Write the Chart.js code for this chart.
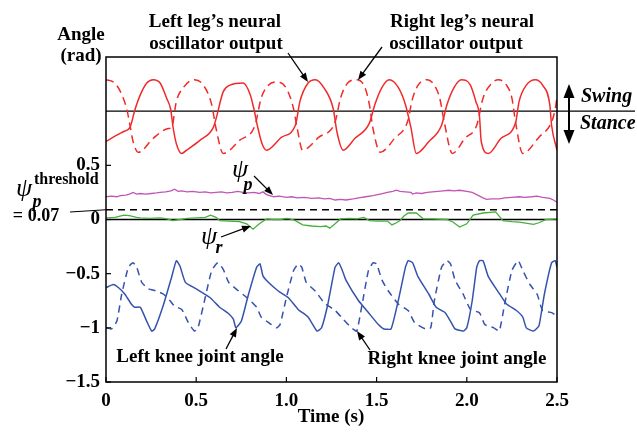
<!DOCTYPE html>
<html>
<head>
<meta charset="utf-8">
<script src="https://cdn.jsdelivr.net/npm/chart.js@4"></script>
<style>html,body{margin:0;background:#fff}</style>
</head>
<body>
<canvas id="c" width="637" height="432"></canvas>
<script>
// axis setup
const xTicks = [0, 0.5, 1, 1.5, 2, 2.5];
const yTicks = [-1.5, -1, -0.5, 0, 0.5];
const swingLine = 1.0;      // swing / stance border
const thresholdLine = 0.09; // psi_p threshold (drawn position)

// left leg's neural oscillator (solid red)
const leftOscT = [0, 0.04, 0.096, 0.133, 0.16, 0.19, 0.226, 0.262, 0.30, 0.336, 0.358, 0.373, 0.39, 0.42, 0.447, 0.52, 0.595, 0.61, 0.65, 0.687, 0.76, 0.80, 0.82, 0.84, 0.865, 0.89, 0.974, 1.05, 1.075, 1.12, 1.16, 1.21, 1.26, 1.28, 1.315, 1.38, 1.46, 1.49, 1.53, 1.57, 1.62, 1.66, 1.69, 1.72, 1.79, 1.86, 1.89, 1.93, 1.97, 2.02, 2.05, 2.07, 2.08, 2.12, 2.19, 2.27, 2.29, 2.33, 2.38, 2.42, 2.46, 2.47, 2.50];
const leftOscV = [0.72, 0.76, 0.81, 0.85, 1.01, 1.15, 1.26, 1.29, 1.26, 1.12, 1.02, 0.84, 0.70, 0.61, 0.64, 0.73, 0.85, 0.93, 1.18, 1.24, 1.26, 1.15, 1.02, 0.86, 0.70, 0.64, 0.76, 0.87, 1.09, 1.26, 1.29, 1.21, 1.02, 0.81, 0.64, 0.75, 0.89, 1.06, 1.22, 1.29, 1.22, 1.06, 0.85, 0.61, 0.72, 0.87, 1.06, 1.22, 1.29, 1.24, 1.09, 0.96, 0.72, 0.61, 0.75, 0.89, 1.09, 1.24, 1.29, 1.24, 1.06, 0.87, 0.64];

// right leg's neural oscillator (dashed red)
const rightOscT = [0, 0.04, 0.08, 0.115, 0.133, 0.15, 0.18, 0.262, 0.345, 0.364, 0.39, 0.43, 0.49, 0.54, 0.586, 0.61, 0.65, 0.74, 0.826, 0.86, 0.90, 0.946, 1.00, 1.04, 1.06, 1.09, 1.18, 1.27, 1.30, 1.34, 1.39, 1.435, 1.46, 1.48, 1.52, 1.60, 1.675, 1.695, 1.73, 1.78, 1.82, 1.85, 1.875, 1.92, 1.99, 2.055, 2.09, 2.14, 2.175, 2.22, 2.25, 2.27, 2.31, 2.40, 2.47, 2.49, 2.50];
const rightOscV = [1.29, 1.27, 1.18, 1.02, 0.87, 0.72, 0.62, 0.75, 0.84, 0.85, 1.09, 1.22, 1.29, 1.24, 1.06, 0.84, 0.61, 0.73, 0.87, 1.12, 1.24, 1.27, 1.21, 1.02, 0.84, 0.64, 0.76, 0.90, 1.12, 1.26, 1.29, 1.22, 1.06, 0.84, 0.62, 0.75, 0.92, 1.09, 1.24, 1.29, 1.24, 1.12, 0.90, 0.61, 0.75, 0.87, 1.12, 1.26, 1.29, 1.24, 1.12, 0.90, 0.61, 0.76, 0.90, 1.02, 1.13];

// psi_p (magenta)
const psiPT = [0, 0.03, 0.06, 0.08, 0.11, 0.13, 0.15, 0.17, 0.19, 0.22, 0.25, 0.28, 0.30, 0.33, 0.36, 0.38, 0.40, 0.42, 0.45, 0.48, 0.52, 0.55, 0.58, 0.61, 0.64, 0.67, 0.70, 0.73, 0.76, 0.79, 0.82, 0.85, 0.87, 0.89, 0.93, 0.96, 1.00, 1.03, 1.06, 1.10, 1.14, 1.18, 1.21, 1.24, 1.27, 1.30, 1.33, 1.37, 1.40, 1.44, 1.48, 1.52, 1.56, 1.59, 1.61, 1.63, 1.66, 1.69, 1.70, 1.72, 1.75, 1.78, 1.81, 1.84, 1.87, 1.90, 1.93, 1.96, 2.00, 2.03, 2.06, 2.09, 2.11, 2.14, 2.18, 2.21, 2.25, 2.29, 2.32, 2.36, 2.39, 2.42, 2.46, 2.48, 2.50];
const psiPV = [0.21, 0.215, 0.21, 0.22, 0.225, 0.235, 0.25, 0.235, 0.24, 0.235, 0.24, 0.245, 0.25, 0.255, 0.265, 0.28, 0.26, 0.265, 0.255, 0.26, 0.25, 0.255, 0.245, 0.25, 0.255, 0.245, 0.25, 0.26, 0.25, 0.245, 0.25, 0.24, 0.255, 0.23, 0.21, 0.215, 0.205, 0.21, 0.20, 0.205, 0.195, 0.20, 0.19, 0.195, 0.18, 0.185, 0.18, 0.19, 0.20, 0.21, 0.22, 0.235, 0.25, 0.26, 0.27, 0.26, 0.255, 0.25, 0.235, 0.245, 0.24, 0.25, 0.255, 0.26, 0.265, 0.27, 0.265, 0.27, 0.26, 0.25, 0.225, 0.20, 0.185, 0.19, 0.19, 0.20, 0.205, 0.21, 0.205, 0.21, 0.215, 0.205, 0.195, 0.18, 0.16];

// psi_r (green)
const psiRT = [0, 0.05, 0.10, 0.13, 0.17, 0.19, 0.24, 0.30, 0.34, 0.37, 0.41, 0.45, 0.50, 0.55, 0.58, 0.61, 0.63, 0.68, 0.74, 0.78, 0.815, 0.85, 0.89, 0.93, 0.965, 1.00, 1.02, 1.05, 1.09, 1.14, 1.19, 1.22, 1.24, 1.27, 1.30, 1.35, 1.39, 1.43, 1.46, 1.51, 1.56, 1.585, 1.61, 1.63, 1.65, 1.675, 1.72, 1.76, 1.81, 1.89, 1.925, 1.96, 2.00, 2.035, 2.09, 2.16, 2.20, 2.25, 2.29, 2.37, 2.40, 2.44, 2.50];
const psiRV = [0.015, 0.02, 0.04, 0.035, 0.02, 0.015, 0.01, 0.015, 0.005, -0.01, 0.0, 0.01, 0.015, 0.02, 0.04, 0.02, -0.01, -0.015, -0.02, -0.04, -0.09, -0.04, 0.005, 0.0, 0.0, 0.01, 0.005, -0.01, -0.05, -0.06, -0.065, -0.06, -0.08, -0.04, 0.005, 0.01, 0.005, 0.02, -0.01, -0.015, -0.015, -0.05, -0.03, -0.01, 0.03, 0.06, 0.06, 0.005, 0.005, 0.0, -0.025, -0.07, -0.04, 0.04, 0.06, 0.07, -0.01, -0.02, -0.025, -0.045, -0.03, 0.0, 0.005];

// left knee joint angle (solid blue)
const leftKneeT = [0, 0.04, 0.07, 0.105, 0.14, 0.16, 0.19, 0.226, 0.253, 0.27, 0.32, 0.364, 0.39, 0.41, 0.44, 0.50, 0.576, 0.63, 0.68, 0.706, 0.72, 0.75, 0.79, 0.835, 0.854, 0.87, 0.90, 0.955, 1.01, 1.065, 1.12, 1.17, 1.195, 1.23, 1.27, 1.29, 1.31, 1.33, 1.40, 1.455, 1.51, 1.54, 1.58, 1.62, 1.66, 1.675, 1.70, 1.73, 1.79, 1.83, 1.88, 1.91, 1.935, 1.98, 2.00, 2.03, 2.055, 2.07, 2.09, 2.12, 2.175, 2.22, 2.275, 2.31, 2.33, 2.37, 2.40, 2.43, 2.47, 2.49, 2.50];
const leftKneeV = [-0.63, -0.60, -0.63, -0.69, -0.78, -0.81, -0.81, -0.94, -1.03, -1.01, -0.78, -0.53, -0.38, -0.43, -0.58, -0.64, -0.72, -0.81, -0.87, -0.92, -1.00, -0.94, -0.69, -0.44, -0.41, -0.52, -0.58, -0.66, -0.72, -0.83, -0.90, -1.03, -1.00, -0.78, -0.44, -0.40, -0.47, -0.56, -0.75, -0.86, -0.97, -1.01, -1.01, -0.75, -0.44, -0.38, -0.40, -0.53, -0.69, -0.81, -0.86, -0.94, -1.01, -1.03, -1.00, -0.75, -0.44, -0.38, -0.38, -0.53, -0.67, -0.78, -0.84, -0.90, -1.00, -1.03, -0.98, -0.69, -0.40, -0.38, -0.44];

// right knee joint angle (dashed blue)
const rightKneeT = [0, 0.03, 0.06, 0.087, 0.124, 0.15, 0.17, 0.198, 0.235, 0.28, 0.32, 0.355, 0.38, 0.42, 0.456, 0.49, 0.51, 0.55, 0.586, 0.62, 0.65, 0.68, 0.72, 0.78, 0.835, 0.86, 0.90, 0.946, 0.965, 1.00, 1.04, 1.066, 1.085, 1.11, 1.16, 1.21, 1.27, 1.315, 1.36, 1.39, 1.42, 1.455, 1.48, 1.50, 1.53, 1.565, 1.62, 1.675, 1.71, 1.77, 1.80, 1.82, 1.86, 1.89, 1.91, 1.935, 1.98, 2.02, 2.07, 2.10, 2.15, 2.18, 2.21, 2.25, 2.285, 2.31, 2.35, 2.39, 2.42, 2.47, 2.50];
const rightKneeV = [-1.00, -1.01, -0.94, -0.69, -0.44, -0.40, -0.44, -0.58, -0.64, -0.66, -0.69, -0.75, -0.80, -0.83, -0.95, -1.03, -1.00, -0.72, -0.47, -0.40, -0.46, -0.58, -0.64, -0.72, -0.81, -0.90, -0.95, -1.00, -0.97, -0.72, -0.47, -0.41, -0.44, -0.58, -0.66, -0.77, -0.84, -0.92, -1.00, -1.03, -0.78, -0.47, -0.40, -0.41, -0.56, -0.66, -0.78, -0.84, -0.95, -1.01, -1.00, -0.75, -0.44, -0.38, -0.41, -0.56, -0.69, -0.83, -0.86, -0.97, -1.00, -1.03, -0.78, -0.47, -0.38, -0.47, -0.60, -0.69, -0.84, -0.86, -0.89];

const SERIF = '"Liberation Serif", "Times New Roman", serif';

function pts(T, V) {
  return T.map((t, i) => ({ x: t, y: V[i] }));
}

function arrow(ctx, x1, y1, x2, y2, len, half) {
  const a = Math.atan2(y2 - y1, x2 - x1);
  ctx.beginPath();
  ctx.moveTo(x1, y1);
  ctx.lineTo(x2 - Math.cos(a) * len * 0.8, y2 - Math.sin(a) * len * 0.8);
  ctx.stroke();
  ctx.beginPath();
  ctx.moveTo(x2, y2);
  ctx.lineTo(x2 - Math.cos(a) * len - Math.sin(a) * half, y2 - Math.sin(a) * len + Math.cos(a) * half);
  ctx.lineTo(x2 - Math.cos(a) * len + Math.sin(a) * half, y2 - Math.sin(a) * len - Math.cos(a) * half);
  ctx.closePath();
  ctx.fill();
}

function txt(ctx, s, x, y, font, align) {
  ctx.font = font;
  ctx.textAlign = align || 'center';
  ctx.fillText(s, x, y);
}

const decor = {
  id: 'decor',
  beforeDatasetsDraw(chart) {
    const ctx = chart.ctx, a = chart.chartArea;
    const ys = chart.scales.y;
    ctx.save();
    ctx.strokeStyle = '#000';
    // swing/stance line, runs out to the right margin
    ctx.lineWidth = 1.3;
    let y1 = ys.getPixelForValue(swingLine);
    ctx.beginPath(); ctx.moveTo(a.left, y1); ctx.lineTo(635, y1); ctx.stroke();
    // zero line
    let y0 = ys.getPixelForValue(0);
    ctx.beginPath(); ctx.moveTo(a.left, y0); ctx.lineTo(a.right, y0); ctx.stroke();
    // threshold
    let yt = ys.getPixelForValue(thresholdLine);
    ctx.lineWidth = 1.6;
    ctx.setLineDash([7, 5]);
    ctx.beginPath(); ctx.moveTo(a.left, yt); ctx.lineTo(a.right, yt); ctx.stroke();
    ctx.setLineDash([]);
    ctx.lineWidth = 1.2;
    ctx.beginPath(); ctx.moveTo(70, 212); ctx.lineTo(a.left, yt); ctx.stroke();
    ctx.restore();
  },
  afterDraw(chart) {
    const ctx = chart.ctx, a = chart.chartArea;
    const xs = chart.scales.x, ys = chart.scales.y;
    ctx.save();
    ctx.strokeStyle = '#000';
    ctx.fillStyle = '#000';
    // frame
    ctx.lineWidth = 1.5;
    ctx.strokeRect(a.left, a.top, a.right - a.left, a.bottom - a.top);
    // inside tick marks
    ctx.lineWidth = 1.2;
    yTicks.forEach(v => {
      const y = ys.getPixelForValue(v);
      ctx.beginPath(); ctx.moveTo(a.left, y); ctx.lineTo(a.left + 5, y); ctx.stroke();
    });
    xTicks.forEach(v => {
      const x = xs.getPixelForValue(v);
      ctx.beginPath(); ctx.moveTo(x, a.bottom); ctx.lineTo(x, a.bottom - 5); ctx.stroke();
    });

    // Swing / Stance double arrow
    ctx.lineWidth = 2;
    arrow(ctx, 569, 114, 569, 84, 14, 5.5);
    arrow(ctx, 569, 108, 569, 144, 14, 5.5);

    // pointer arrows
    ctx.lineWidth = 1.3;
    arrow(ctx, 288, 53, 308, 82, 9, 3.5);
    arrow(ctx, 382, 47, 358, 80, 9, 3.5);
    arrow(ctx, 254, 176, 273, 195, 9, 3.5);
    arrow(ctx, 221, 237, 251, 226, 9, 3.5);
    arrow(ctx, 226, 349, 237, 328, 9, 3.5);
    arrow(ctx, 370, 350, 357, 331, 9, 3.5);

    // text
    ctx.textBaseline = 'middle';
    const B = 'bold 19px ' + SERIF;
    txt(ctx, 'Angle', 81, 35, B);
    txt(ctx, '(rad)', 81, 56, B);
    txt(ctx, 'Left leg\u2019s neural', 215, 22, B);
    txt(ctx, 'oscillator output', 216, 44, B);
    txt(ctx, 'Right leg\u2019s neural', 462, 22, B);
    txt(ctx, 'oscillator output', 456, 44, B);
    txt(ctx, 'Swing', 581, 97, 'italic bold 20px ' + SERIF, 'left');
    txt(ctx, 'Stance', 580, 124, 'italic bold 20px ' + SERIF, 'left');
    txt(ctx, 'Left knee joint angle', 200, 357, B);
    txt(ctx, 'Right knee joint angle', 457, 359, B);
    txt(ctx, 'Time (s)', 331, 417, B);

    // psi labels
    const PSI = 'italic 26px ' + SERIF;
    const SUB = 'italic bold 18px ' + SERIF;
    txt(ctx, '\u03C8', 240, 170, PSI);
    txt(ctx, 'p', 248, 185, SUB);
    txt(ctx, '\u03C8', 209, 237, PSI);
    txt(ctx, 'r', 219, 248, SUB);
    txt(ctx, '\u03C8', 24, 189, PSI);
    txt(ctx, 'p', 37, 202, SUB);
    txt(ctx, 'threshold', 34, 180, 'bold 16px ' + SERIF, 'left');
    txt(ctx, '= 0.07', 36, 216, 'bold 18px ' + SERIF);
    ctx.restore();
  }
};

const tickFont = { family: SERIF, size: 19, weight: 'bold' };

new Chart(document.getElementById('c'), {
  type: 'line',
  data: {
    datasets: [
      { data: pts(leftOscT, leftOscV), borderColor: '#f02a2a', borderWidth: 1.5, cubicInterpolationMode: 'monotone' },
      { data: pts(rightOscT, rightOscV), borderColor: '#f02a2a', borderWidth: 1.5, borderDash: [8, 5], cubicInterpolationMode: 'monotone' },
      { data: pts(psiPT, psiPV), borderColor: '#c055b5', borderWidth: 1.3, tension: 0 },
      { data: pts(psiRT, psiRV), borderColor: '#45b03a', borderWidth: 1.3, tension: 0 },
      { data: pts(leftKneeT, leftKneeV), borderColor: '#3452ae', borderWidth: 1.5, tension: 0.15 },
      { data: pts(rightKneeT, rightKneeV), borderColor: '#3452ae', borderWidth: 1.5, borderDash: [7, 5], tension: 0.15 }
    ]
  },
  options: {
    responsive: false,
    animation: false,
    devicePixelRatio: 1,
    layout: { padding: { left: 0, right: 80, top: 57, bottom: 0 } },
    elements: { point: { radius: 0 } },
    plugins: { legend: { display: false }, tooltip: { enabled: false } },
    scales: {
      x: {
        type: 'linear', min: 0, max: 2.5,
        afterBuildTicks: s => { s.ticks = xTicks.map(v => ({ value: v })); },
        ticks: { font: tickFont, color: '#000', padding: 8, maxRotation: 0 },
        grid: { display: false, drawTicks: false },
        border: { display: false },
        afterFit: s => { s.height = 50; }
      },
      y: {
        type: 'linear', min: -1.5, max: 1.5,
        afterBuildTicks: s => { s.ticks = yTicks.map(v => ({ value: v })); },
        ticks: {
          font: tickFont, color: '#000', padding: 6,
          callback: v => v < 0 ? '\u2212' + Math.abs(v) : String(v)
        },
        grid: { display: false, drawTicks: false },
        border: { display: false },
        afterFit: s => { s.width = 106; }
      }
    }
  },
  plugins: [decor]
});
</script>
</body>
</html>
